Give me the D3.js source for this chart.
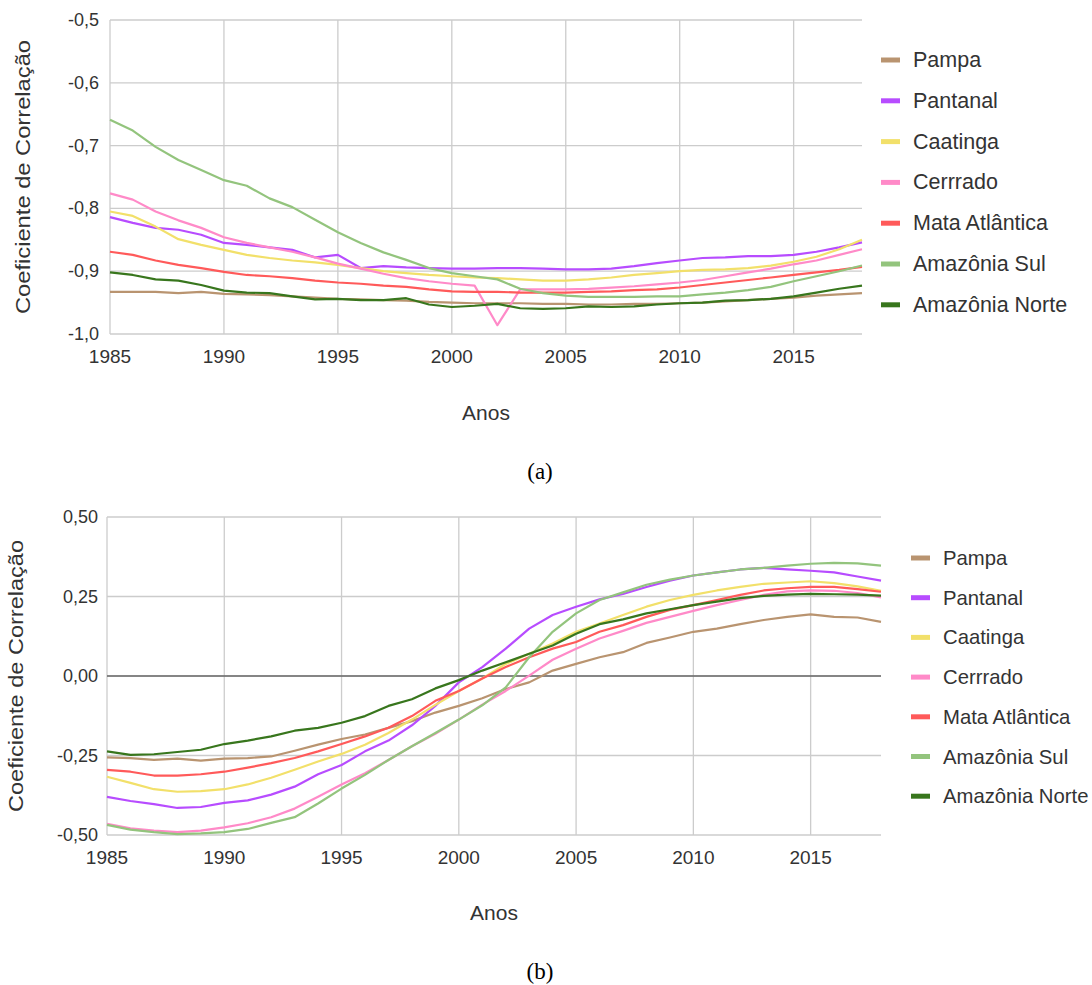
<!DOCTYPE html>
<html>
<head>
<meta charset="utf-8">
<script src="https://cdn.jsdelivr.net/npm/d3@7"></script>
<style>
  html, body { margin: 0; padding: 0; background: #fff; }
  svg { display: block; }
  text { font-family: "Liberation Sans", Arial, sans-serif; fill: #333; }
</style>
</head>
<body>
<svg id="chart" width="1092" height="985"></svg>
<script>
// ---------- DATA ----------
const years = [1985,1986,1987,1988,1989,1990,1991,1992,1993,1994,1995,1996,1997,1998,1999,2000,2001,2002,2003,2004,2005,2006,2007,2008,2009,2010,2011,2012,2013,2014,2015,2016,2017,2018];
const seriesNames = ["Pampa","Pantanal","Caatinga","Cerrrado","Mata Atlântica","Amazônia Sul","Amazônia Norte"];
const seriesColors = ["#b99470","#b74cff","#f2e06a","#ff8ac8","#ff5a5a","#93c47d","#38761d"];

// Chart (a)
const pampaA    = [-0.933,-0.933,-0.933,-0.935,-0.933,-0.936,-0.937,-0.938,-0.940,-0.942,-0.944,-0.945,-0.946,-0.947,-0.949,-0.950,-0.951,-0.951,-0.951,-0.952,-0.952,-0.953,-0.953,-0.952,-0.952,-0.951,-0.950,-0.948,-0.946,-0.944,-0.942,-0.939,-0.937,-0.935];
const pantanalA = [-0.814,-0.823,-0.831,-0.834,-0.842,-0.855,-0.858,-0.862,-0.866,-0.878,-0.874,-0.895,-0.892,-0.894,-0.895,-0.896,-0.896,-0.895,-0.895,-0.896,-0.897,-0.897,-0.896,-0.892,-0.887,-0.883,-0.879,-0.878,-0.876,-0.876,-0.874,-0.869,-0.862,-0.854];
const caatingaA = [-0.805,-0.812,-0.829,-0.849,-0.858,-0.866,-0.874,-0.879,-0.883,-0.886,-0.890,-0.895,-0.900,-0.903,-0.906,-0.908,-0.910,-0.911,-0.913,-0.915,-0.915,-0.913,-0.910,-0.906,-0.903,-0.900,-0.898,-0.897,-0.895,-0.891,-0.885,-0.877,-0.865,-0.850];
const cerradoA  = [-0.776,-0.786,-0.805,-0.819,-0.831,-0.846,-0.855,-0.862,-0.869,-0.878,-0.888,-0.896,-0.904,-0.911,-0.916,-0.920,-0.923,-0.986,-0.929,-0.929,-0.929,-0.928,-0.926,-0.924,-0.921,-0.918,-0.914,-0.908,-0.902,-0.896,-0.889,-0.883,-0.874,-0.865];
const mataA     = [-0.869,-0.874,-0.883,-0.890,-0.895,-0.901,-0.906,-0.908,-0.911,-0.915,-0.918,-0.920,-0.923,-0.925,-0.929,-0.932,-0.933,-0.933,-0.934,-0.934,-0.934,-0.933,-0.932,-0.930,-0.929,-0.926,-0.922,-0.918,-0.914,-0.910,-0.906,-0.902,-0.898,-0.893];
const sulA      = [-0.659,-0.676,-0.702,-0.723,-0.739,-0.755,-0.764,-0.784,-0.798,-0.818,-0.838,-0.855,-0.870,-0.882,-0.895,-0.903,-0.908,-0.913,-0.928,-0.935,-0.939,-0.941,-0.941,-0.941,-0.940,-0.940,-0.937,-0.934,-0.930,-0.925,-0.916,-0.908,-0.900,-0.891];
const norteA    = [-0.902,-0.906,-0.913,-0.915,-0.922,-0.931,-0.934,-0.935,-0.940,-0.945,-0.944,-0.946,-0.946,-0.943,-0.953,-0.957,-0.955,-0.952,-0.959,-0.960,-0.959,-0.956,-0.957,-0.956,-0.953,-0.951,-0.950,-0.947,-0.946,-0.944,-0.940,-0.934,-0.928,-0.923];

// Chart (b)
const pampaB    = [-0.256,-0.258,-0.264,-0.260,-0.266,-0.260,-0.258,-0.253,-0.235,-0.216,-0.198,-0.184,-0.163,-0.142,-0.115,-0.094,-0.070,-0.041,-0.020,0.017,0.038,0.059,0.075,0.104,0.121,0.139,0.149,0.163,0.176,0.186,0.194,0.186,0.184,0.170];
const pantanalB = [-0.380,-0.393,-0.403,-0.415,-0.412,-0.399,-0.391,-0.373,-0.348,-0.309,-0.280,-0.237,-0.203,-0.155,-0.094,-0.020,0.028,0.086,0.149,0.192,0.218,0.241,0.258,0.280,0.300,0.316,0.326,0.335,0.340,0.335,0.331,0.326,0.313,0.300];
const caatingaB = [-0.317,-0.336,-0.356,-0.364,-0.362,-0.356,-0.341,-0.320,-0.295,-0.269,-0.245,-0.216,-0.179,-0.137,-0.091,-0.047,-0.008,0.038,0.070,0.102,0.139,0.165,0.192,0.218,0.239,0.255,0.269,0.280,0.290,0.294,0.298,0.292,0.282,0.268];
const cerradoB  = [-0.465,-0.479,-0.486,-0.491,-0.486,-0.476,-0.463,-0.444,-0.417,-0.380,-0.341,-0.306,-0.264,-0.221,-0.182,-0.137,-0.090,-0.047,0.001,0.051,0.086,0.118,0.142,0.167,0.186,0.205,0.223,0.239,0.255,0.266,0.269,0.268,0.261,0.247];
const mataB     = [-0.295,-0.301,-0.313,-0.313,-0.309,-0.301,-0.288,-0.274,-0.258,-0.237,-0.214,-0.190,-0.163,-0.126,-0.078,-0.047,-0.008,0.028,0.059,0.086,0.107,0.139,0.160,0.186,0.208,0.223,0.239,0.255,0.269,0.276,0.280,0.280,0.273,0.265];
const sulB      = [-0.468,-0.483,-0.491,-0.497,-0.495,-0.491,-0.481,-0.462,-0.444,-0.401,-0.354,-0.311,-0.264,-0.221,-0.179,-0.137,-0.092,-0.036,0.059,0.139,0.197,0.239,0.263,0.287,0.303,0.316,0.326,0.335,0.340,0.347,0.353,0.356,0.354,0.347];
const norteB    = [-0.237,-0.248,-0.246,-0.239,-0.232,-0.214,-0.203,-0.190,-0.172,-0.163,-0.147,-0.126,-0.094,-0.073,-0.039,-0.013,0.017,0.043,0.070,0.096,0.133,0.163,0.178,0.197,0.210,0.223,0.234,0.245,0.252,0.256,0.258,0.257,0.256,0.253];

// Ticks
const xTicks = [1985,1990,1995,2000,2005,2010,2015];
const yTicksA = [-0.5,-0.6,-0.7,-0.8,-0.9,-1.0];
const yTickLabelsA = ["-0,5","-0,6","-0,7","-0,8","-0,9","-1,0"];
const yTicksB = [0.5,0.25,0,-0.25,-0.5];
const yTickLabelsB = ["0,50","0,25","0,00","-0,25","-0,50"];

const yTitle = "Coeficiente de Correlação";
const xTitle = "Anos";

// ---------- DRAW ----------
const svg = d3.select("#chart");
svg.append("rect").attr("width",1092).attr("height",985).attr("fill","#fff");

function drawChart(cfg) {
  const g = svg.append("g");
  const x = d3.scaleLinear().domain([1985, 2018]).range([cfg.left, cfg.right]);
  const y = d3.scaleLinear().domain(cfg.yDomain).range([cfg.bottom, cfg.top]);

  // vertical gridlines
  g.selectAll(".vg").data(xTicks).join("line")
    .attr("x1", d => x(d)).attr("x2", d => x(d))
    .attr("y1", cfg.top).attr("y2", cfg.bottom)
    .attr("stroke", "#cccccc").attr("stroke-width", 1.3);
  // horizontal gridlines
  g.selectAll(".hg").data(cfg.yTicks).join("line")
    .attr("x1", cfg.left).attr("x2", cfg.right)
    .attr("y1", d => y(d)).attr("y2", d => y(d))
    .attr("stroke", "#cccccc").attr("stroke-width", 1.3);
  if (cfg.zeroLine) {
    g.append("line")
      .attr("x1", cfg.left).attr("x2", cfg.right)
      .attr("y1", y(0)).attr("y2", y(0))
      .attr("stroke", "#333").attr("stroke-width", 1.2);
  }

  // y tick labels
  g.selectAll(".yl").data(cfg.yTicks).join("text")
    .attr("x", cfg.left - cfg.yLabelGap).attr("y", d => y(d))
    .attr("text-anchor", "end").attr("dominant-baseline", "central")
    .attr("font-size", 18)
    .text((d, i) => cfg.yLabels[i]);
  // x tick labels
  g.selectAll(".xl").data(xTicks).join("text")
    .attr("x", d => x(d)).attr("y", cfg.bottom + 22)
    .attr("text-anchor", "middle").attr("dominant-baseline", "central")
    .attr("font-size", 19)
    .text(d => d);

  // lines
  const line = d3.line().x((d, i) => x(years[i])).y(d => y(d));
  cfg.series.forEach((s, k) => {
    g.append("path").datum(s)
      .attr("fill", "none")
      .attr("stroke", seriesColors[k])
      .attr("stroke-width", 2.2)
      .attr("stroke-linejoin", "round")
      .attr("d", line);
  });

  // axis titles
  g.append("text")
    .attr("transform", `translate(${cfg.yTitleX},${(cfg.top + cfg.bottom) / 2}) rotate(-90)`)
    .attr("text-anchor", "middle").attr("dominant-baseline", "central")
    .attr("font-size", 21)
    .attr("textLength", cfg.yTitleLen)
    .attr("lengthAdjust", "spacingAndGlyphs")
    .text(yTitle);
  g.append("text")
    .attr("x", (cfg.left + cfg.right) / 2).attr("y", cfg.xTitleY)
    .attr("text-anchor", "middle").attr("dominant-baseline", "central")
    .attr("font-size", 21)
    .text(xTitle);

  // legend
  const lg = g.append("g");
  seriesNames.forEach((name, k) => {
    const yy = cfg.legendY0 + k * cfg.legendStep;
    lg.append("line")
      .attr("x1", cfg.legendX).attr("x2", cfg.legendX + 19)
      .attr("y1", yy).attr("y2", yy)
      .attr("stroke", seriesColors[k]).attr("stroke-width", 5);
    lg.append("text")
      .attr("x", cfg.legendX + 32).attr("y", yy)
      .attr("dominant-baseline", "central")
      .attr("font-size", cfg.legendFont)
      .text(name);
  });

  // panel caption
  g.append("text")
    .attr("x", 540).attr("y", cfg.captionY)
    .attr("text-anchor", "middle")
    .style("font-family", "'Liberation Serif', 'Times New Roman', serif")
    .style("fill", "#000")
    .attr("font-size", 23)
    .text(cfg.caption);
}

drawChart({
  left: 110, right: 862, top: 20, bottom: 334,
  yDomain: [-1.0, -0.5],
  yTicks: yTicksA, yLabels: yTickLabelsA, yLabelGap: 11,
  series: [pampaA, pantanalA, caatingaA, cerradoA, mataA, sulA, norteA],
  zeroLine: false,
  yTitleX: 22, yTitleLen: 274, xTitleY: 412,
  legendX: 881, legendY0: 60, legendStep: 40.8, legendFont: 21.5,
  caption: "(a)", captionY: 479
});

drawChart({
  left: 107, right: 881, top: 517, bottom: 835,
  yDomain: [-0.5, 0.5],
  yTicks: yTicksB, yLabels: yTickLabelsB, yLabelGap: 9,
  series: [pampaB, pantanalB, caatingaB, cerradoB, mataB, sulB, norteB],
  zeroLine: true,
  yTitleX: 15, yTitleLen: 272, xTitleY: 912,
  legendX: 911, legendY0: 558, legendStep: 39.7, legendFont: 20.3,
  caption: "(b)", captionY: 979
});
</script>
</body>
</html>
